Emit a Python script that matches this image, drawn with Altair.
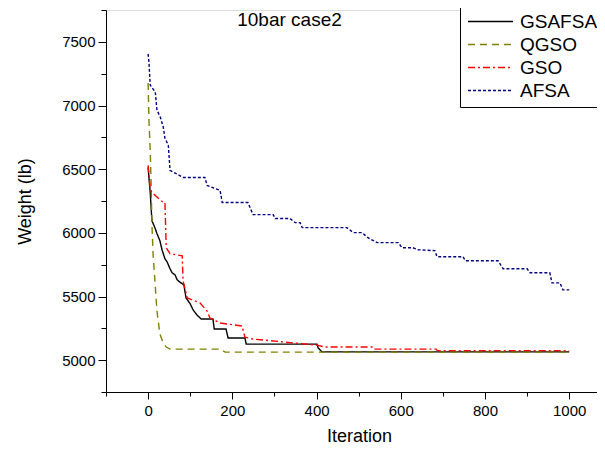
import altair as alt
import pandas as pd

series_names = ["GSAFSA", "QGSO", "GSO", "AFSA"]
series_colors = ["#000000", "#808000", "#FF0000", "#000080"]
series_dash = [[1, 0], [7, 5], [7, 3, 2, 3], [3, 2]]

gsafsa_iter = [0, 5, 9, 17, 21, 28, 33, 40, 45, 52, 57, 64, 69, 78, 85, 90, 100, 107, 116, 126,
               154, 157, 185, 190, 230, 233, 401, 404, 413, 1000]
gsafsa_w = [6514, 6317, 6096, 6033, 5994, 5938, 5867, 5796, 5773, 5718, 5686, 5670, 5631, 5607, 5591,
            5489, 5442, 5394, 5355, 5323, 5323, 5245, 5245, 5174, 5174, 5126, 5126, 5095, 5065, 5065]

qgso_iter = [0, 2, 5, 7, 9, 12, 17, 21, 28, 36, 43, 52, 171, 183, 1000]
qgso_w = [7177, 6885, 6648, 6412, 6073, 5820, 5584, 5386, 5205, 5134, 5103, 5087, 5087, 5063, 5063]

gso_iter = [0, 5, 9, 36, 40, 43, 52, 81, 83, 93, 123, 140, 147, 171, 223, 230, 249, 401, 420,
            534, 537, 684, 687, 1000]
gso_w = [6530, 6348, 6317, 6238, 6238, 5883, 5836, 5820, 5623, 5489, 5450, 5386, 5331, 5292, 5268,
         5181, 5166, 5118, 5103, 5103, 5087, 5087, 5075, 5075]

afsa_iter = [0, 2, 5, 17, 21, 29, 36, 40, 48, 52, 83, 135, 140, 171, 176, 237, 242, 249, 297, 302,
             337, 349, 361, 366, 472, 487, 508, 522, 544, 594, 603, 629, 641, 681, 686, 748, 753,
             831, 843, 900, 907, 954, 959, 978, 985, 1000]
afsa_w = [7405, 7342, 7160, 7106, 6964, 6908, 6830, 6743, 6688, 6491, 6435, 6435, 6372, 6333, 6238,
          6238, 6199, 6143, 6143, 6112, 6112, 6080, 6080, 6041, 6041, 6002, 6002, 5962, 5923, 5923,
          5883, 5883, 5867, 5860, 5812, 5812, 5781, 5781, 5718, 5718, 5686, 5686, 5607, 5607, 5552,
          5552]

x_ticks = [-100, 0, 100, 200, 300, 400, 500, 600, 700, 800, 900, 1000]
y_ticks = [4750, 5000, 5250, 5500, 5750, 6000, 6250, 6500, 6750, 7000, 7250, 7500, 7750]

rows = []
for name, xs, ys in [("GSAFSA", gsafsa_iter, gsafsa_w), ("QGSO", qgso_iter, qgso_w),
                     ("GSO", gso_iter, gso_w), ("AFSA", afsa_iter, afsa_w)]:
    for i, (a, b) in enumerate(zip(xs, ys)):
        rows.append({"series": name, "iter": a, "weight": b, "ord": i})
df = pd.DataFrame(rows)

FONT = "Liberation Sans"

chart = alt.Chart(df).mark_line(strokeWidth=1.4).encode(
    x=alt.X("iter:Q", scale=alt.Scale(domain=[-100, 1066], nice=False, zero=False),
            axis=alt.Axis(title="Iteration", values=x_ticks, grid=False,
                          labelExpr="datum.value % 200 === 0 ? datum.label : ''",
                          tickSize={"condition": {"test": "datum.value % 200 === 0", "value": 7}, "value": 4},
                          format="d", labelFontSize=15, titleFontSize=18, labelPadding=4,
                          titleFontWeight="normal", titleBaseline="alphabetic", titleY=49, titleX=253,
                          domainColor="black", tickColor="black", labelColor="black",
                          labelFont=FONT, titleFont=FONT, labelFlush=False)),
    y=alt.Y("weight:Q", scale=alt.Scale(domain=[4750, 7750], nice=False, zero=False),
            axis=alt.Axis(title="Weight (lb)", values=y_ticks, grid=False,
                          labelExpr="datum.value % 500 === 0 ? datum.label : ''",
                          tickSize={"condition": {"test": "datum.value % 500 === 0", "value": 8}, "value": 5},
                          format="d", labelFontSize=15, titleFontSize=18, labelPadding=3,
                          titleFontWeight="normal", titleBaseline="middle", titleX=-81, titleY=191,
                          titleAngle=-90,
                          domainColor="black", tickColor="black", labelColor="black",
                          labelFont=FONT, titleFont=FONT, labelFlush=False)),
    color=alt.Color("series:N", scale=alt.Scale(domain=series_names, range=series_colors),
                    sort=series_names,
                    legend=alt.Legend(title=None, orient="none", legendX=354, legendY=-4,
                                      symbolType="M-1,0H5", symbolSize=225, symbolStrokeWidth=1.4,
                                      labelFontSize=19, labelFont=FONT, labelColor="black",
                                      strokeColor="black", padding=6, rowPadding=3,
                                      labelOffset=35, fillColor="white")),
    strokeDash=alt.StrokeDash("series:N", scale=alt.Scale(domain=series_names, range=series_dash),
                              sort=series_names, legend=None),
    order="ord:Q",
).properties(
    width=491, height=382,
    title=alt.TitleParams("10bar case2", font=FONT, fontSize=19, fontWeight="normal",
                          anchor="middle", dx=-62, offset=-24, color="black"),
    padding={"left": 98, "top": 2, "right": 0, "bottom": 53},
    autosize=alt.AutoSizeParams(type="none"),
).configure_view(stroke=None).configure(background="white")

chart.save("out.html", embed_options={"renderer": "svg", "actions": False})
